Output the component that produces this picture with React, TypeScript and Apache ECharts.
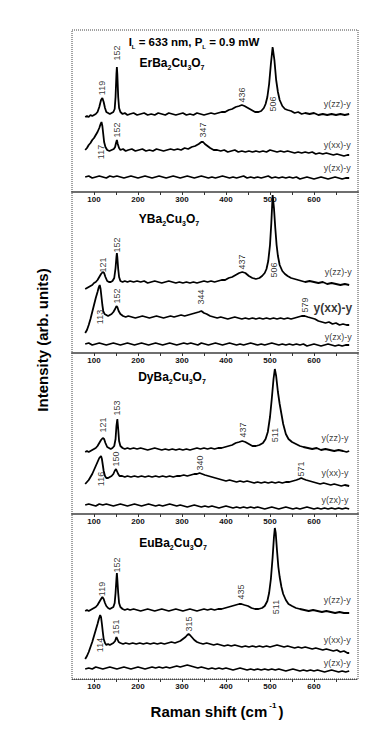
import React, { useEffect, useRef } from "react";
import * as echarts from "echarts";

const FONT = '"Liberation Sans", Arial, Helvetica, sans-serif';

// ---- axis ----
const xMin = 50;
const xMax = 700;
const majorTicks = [100, 200, 300, 400, 500, 600];
const allTicks = [100, 150, 200, 250, 300, 350, 400, 450, 500, 550, 600, 650];

// ---- panel 1: ErBa2Cu3O7 ----
const erZZ = [[80,75],[84,76],[88,75],[92,77],[96,76],[100,77],[104,78],[108,80],[112,85],[116,92],[119,94],[122,90],[125,84],[128,80],[132,79],[136,78],[140,79],[144,80],[147,83],[149,95],[151,118],[152,125],[153,118],[155,95],[157,84],[160,80],[165,78],[170,79],[176,77],[182,78],[190,79],[198,77],[206,78],[214,79],[222,77],[230,78],[238,77],[246,79],[254,78],[262,77],[270,79],[278,78],[286,77],[294,78],[302,79],[310,77],[318,78],[326,77],[334,79],[342,78],[350,77],[358,78],[366,79],[374,78],[382,79],[390,80],[398,80],[406,82],[414,83],[422,85],[430,86],[436,87],[442,86],[450,84],[458,82],[466,80],[474,80],[480,81],[486,84],[490,88],[494,95],[498,108],[502,128],[506,145],[510,132],[514,112],[518,100],[522,92],[528,86],[534,83],[540,82],[548,81],[556,79],[564,80],[572,78],[580,79],[590,78],[600,79],[610,77],[620,78],[630,77],[640,78],[650,77],[660,78],[670,77],[680,78]];
const erXX = [[80,42],[84,44],[88,47],[92,49],[96,52],[100,54],[104,57],[108,60],[112,64],[115,68],[117,70],[119,66],[121,58],[123,50],[126,45],[130,42],[135,41],[140,42],[145,43],[148,45],[150,49],[152,52],[154,48],[157,44],[160,42],[166,43],[172,41],[178,42],[186,43],[194,41],[202,42],[210,43],[218,41],[226,42],[234,41],[242,43],[250,42],[258,41],[266,42],[274,43],[282,42],[290,43],[298,42],[306,44],[314,43],[322,45],[330,46],[338,48],[344,50],[348,50],[352,48],[358,46],[364,44],[372,42],[380,42],[388,41],[396,42],[404,40],[412,41],[420,42],[428,40],[436,41],[444,40],[452,41],[460,40],[468,41],[476,40],[484,41],[492,40],[500,42],[508,41],[516,40],[524,41],[532,40],[540,41],[548,40],[556,39],[564,40],[572,39],[580,40],[588,39],[596,40],[604,38],[612,39],[620,38],[628,39],[636,38],[644,37],[652,38],[660,37],[668,36],[676,37],[680,37]];
const erZX = [[80,15],[88,16],[96,14],[104,15],[112,16],[120,15],[128,14],[136,16],[144,15],[152,16],[160,15],[168,14],[176,15],[184,16],[192,15],[200,14],[208,15],[216,16],[224,15],[232,14],[240,15],[248,16],[256,15],[264,14],[272,15],[280,16],[288,15],[296,14],[304,15],[312,16],[320,15],[328,14],[336,15],[344,16],[352,15],[360,14],[368,15],[376,14],[384,15],[392,16],[400,15],[408,14],[416,15],[424,14],[432,15],[440,16],[448,14],[456,15],[464,14],[472,15],[480,14],[488,15],[496,16],[504,14],[512,15],[520,14],[528,15],[536,14],[544,15],[552,14],[560,15],[568,13],[576,14],[584,15],[592,14],[600,13],[608,14],[616,15],[624,14],[632,13],[640,14],[648,15],[656,14],[664,13],[672,14],[680,14]];
const erPeaks = [["119",119,104],["152",152,139],["436",436,97],["506",507,88],["117",117,40],["152",152,62],["347",347,62]];
const erTags = [["y(zz)-y",653,88],["y(xx)-y",653,47],["y(zx)-y",653,24]];

// ---- panel 2: YBa2Cu3O7 ----
const yZZ = [[80,64],[84,65],[88,66],[92,67],[96,68],[100,70],[104,71],[108,73],[112,76],[116,79],[120,81],[123,80],[126,76],[130,72],[134,71],[138,71],[142,72],[146,75],[149,85],[151,96],[152,100],[153,96],[155,84],[157,76],[160,72],[165,71],[170,72],[176,71],[182,72],[190,71],[198,72],[206,71],[214,72],[222,70],[230,71],[238,72],[246,71],[254,70],[262,71],[270,72],[278,71],[286,70],[294,71],[302,70],[310,71],[318,70],[326,71],[334,70],[342,71],[350,72],[358,71],[366,72],[374,71],[382,72],[390,73],[398,73],[406,75],[414,76],[422,78],[430,80],[437,81],[444,80],[452,77],[460,75],[468,74],[476,75],[482,77],[488,80],[492,84],[496,92],[500,108],[503,130],[506,158],[509,145],[512,125],[515,108],[518,97],[522,88],[528,82],[534,79],[540,77],[548,75],[556,74],[564,73],[572,72],[580,71],[590,72],[600,71],[610,70],[620,71],[630,69],[640,70],[650,69],[660,68],[670,69],[680,68]];
const yXX = [[80,20],[84,23],[88,28],[92,34],[96,41],[100,48],[104,55],[108,61],[111,66],[113,68],[115,64],[117,56],[119,48],[121,42],[124,39],[128,38],[132,37],[136,38],[140,39],[144,41],[148,44],[151,47],[153,46],[156,42],[160,39],[166,37],[172,36],[178,37],[186,36],[194,35],[202,36],[210,37],[218,36],[226,35],[234,36],[242,37],[250,36],[258,35],[266,36],[274,37],[282,36],[290,37],[298,38],[306,37],[314,38],[322,39],[330,40],[338,41],[344,42],[350,40],[356,39],[364,37],[372,36],[380,35],[388,36],[396,35],[404,34],[412,35],[420,36],[428,35],[436,34],[444,35],[452,34],[460,35],[468,34],[476,35],[484,34],[492,35],[500,34],[508,35],[516,34],[524,35],[532,34],[540,35],[548,34],[556,35],[564,36],[572,37],[579,37],[586,36],[594,35],[602,34],[610,32],[618,31],[626,30],[634,31],[642,29],[650,30],[658,28],[666,29],[674,28],[680,28]];
const yZX = [[80,9],[88,10],[96,8],[104,9],[112,10],[120,9],[128,8],[136,9],[144,10],[152,9],[160,8],[168,9],[176,10],[184,9],[192,8],[200,9],[208,10],[216,9],[224,8],[232,9],[240,10],[248,9],[256,8],[264,9],[272,10],[280,9],[288,8],[296,9],[304,10],[312,9],[320,10],[328,9],[336,8],[344,10],[352,9],[360,8],[368,9],[376,10],[384,9],[392,8],[400,9],[408,10],[416,9],[424,8],[432,9],[440,8],[448,9],[456,10],[464,9],[472,8],[480,9],[488,8],[496,9],[504,10],[512,9],[520,8],[528,9],[536,8],[544,9],[552,8],[560,9],[568,8],[576,9],[584,7],[592,8],[600,9],[608,8],[616,7],[624,8],[632,9],[640,8],[648,7],[656,8],[664,7],[672,8],[680,8]];
const yPeaks = [["121",121,88],["152",152,108],["437",437,91],["506",509,83],["113",113,36],["152",152,57],["344",344,56],["579",579,48]];
const yTags = [["y(zz)-y",655,81],["y(xx)-y",643,45],["y(zx)-y",655,16]];

// ---- panel 3: DyBa2Cu3O7 ----
const dyZZ = [[80,62],[84,63],[88,62],[92,63],[96,64],[100,65],[104,66],[108,68],[112,71],[116,74],[120,76],[123,75],[126,71],[130,67],[134,66],[138,65],[142,66],[146,68],[149,75],[151,88],[153,95],[155,85],[157,73],[160,68],[165,66],[170,65],[176,66],[182,65],[190,66],[198,65],[206,66],[214,65],[222,64],[230,65],[238,66],[246,65],[254,64],[262,65],[270,64],[278,65],[286,64],[294,65],[302,64],[310,65],[318,64],[326,65],[334,66],[342,65],[350,66],[358,65],[366,66],[374,65],[382,66],[390,66],[398,67],[406,68],[414,69],[422,71],[430,72],[437,73],[444,72],[452,70],[460,68],[468,68],[476,69],[484,71],[490,75],[495,82],[500,97],[504,115],[508,135],[511,145],[514,138],[518,122],[522,110],[526,100],[530,90],[536,80],[542,75],[550,72],[559,70],[568,68],[576,67],[586,66],[596,65],[606,66],[616,64],[626,65],[636,64],[646,63],[656,64],[666,63],[674,62],[680,63]];
const dyXX = [[80,30],[84,32],[88,34],[92,37],[96,40],[100,44],[104,48],[108,52],[112,56],[116,58],[118,55],[120,49],[122,43],[125,38],[128,36],[132,36],[136,37],[140,38],[144,40],[147,43],[150,45],[152,43],[155,40],[158,38],[164,38],[170,37],[176,38],[184,37],[192,38],[200,37],[208,38],[216,37],[224,38],[232,37],[240,38],[248,37],[256,38],[264,37],[272,38],[280,37],[288,38],[296,38],[304,39],[312,38],[320,39],[328,40],[334,40],[340,41],[346,40],[352,39],[360,38],[368,37],[376,36],[384,35],[392,34],[400,33],[408,34],[416,33],[424,32],[432,33],[440,32],[448,33],[456,32],[464,31],[472,32],[480,31],[488,32],[496,31],[504,32],[512,31],[520,32],[528,31],[536,32],[544,32],[552,33],[560,34],[566,35],[571,36],[576,35],[582,34],[590,33],[598,32],[606,31],[614,30],[622,31],[630,30],[638,29],[646,30],[654,29],[662,28],[670,29],[680,28]];
const dyZX = [[80,9],[88,10],[96,9],[104,8],[112,10],[120,9],[128,10],[136,9],[144,8],[152,9],[160,10],[168,9],[176,8],[184,9],[192,10],[200,9],[208,8],[216,9],[224,10],[232,9],[240,8],[248,9],[256,8],[264,9],[272,10],[280,9],[288,8],[296,9],[304,8],[312,7],[320,8],[328,9],[336,8],[344,7],[352,8],[360,7],[368,8],[376,7],[384,6],[392,7],[400,8],[408,7],[416,6],[424,7],[432,6],[440,7],[448,6],[456,7],[464,6],[472,7],[480,6],[488,5],[496,6],[504,7],[512,6],[520,5],[528,6],[536,7],[544,6],[552,5],[560,6],[568,5],[576,6],[584,7],[592,6],[600,5],[608,6],[616,5],[624,6],[632,5],[640,6],[648,5],[656,6],[664,5],[672,6],[680,5]];
const dyPeaks = [["121",121,89],["153",153,106],["437",439,84],["511",511,79],["116",116,35],["150",150,55],["340",340,51],["571",571,45]];
const dyTags = [["y(zz)-y",648,76],["y(xx)-y",648,41],["y(zx)-y",648,14]];

// ---- panel 4: EuBa2Cu3O7 ----
const euZZ = [[80,68],[84,69],[88,68],[92,69],[96,70],[100,71],[104,72],[108,74],[112,77],[116,80],[119,82],[122,80],[125,76],[128,73],[132,71],[136,70],[140,71],[144,72],[147,76],[149,86],[151,100],[152,106],[153,100],[155,86],[157,76],[160,72],[165,70],[170,69],[176,70],[182,69],[190,70],[198,69],[206,68],[214,69],[222,70],[230,69],[238,68],[246,69],[254,70],[262,69],[270,68],[278,69],[286,70],[294,69],[302,68],[310,69],[318,70],[326,69],[334,68],[342,69],[350,70],[358,69],[366,70],[374,69],[382,70],[390,70],[398,71],[406,72],[414,73],[422,74],[430,75],[435,75],[442,74],[450,73],[458,71],[466,70],[474,70],[482,71],[488,73],[494,78],[498,86],[502,100],[506,122],[509,142],[511,151],[513,146],[516,128],[519,112],[522,102],[526,92],[530,85],[536,79],[542,75],[550,73],[559,71],[568,70],[578,69],[588,68],[598,69],[608,68],[618,67],[628,68],[638,67],[648,66],[658,67],[668,66],[680,66]];
const euXX = [[80,20],[84,23],[88,27],[92,32],[96,37],[100,43],[104,49],[108,55],[111,60],[114,64],[116,62],[118,55],[120,47],[122,40],[125,36],[128,34],[132,35],[136,34],[140,35],[144,36],[148,38],[151,42],[153,40],[156,37],[160,36],[166,35],[172,36],[180,35],[188,36],[196,35],[204,36],[212,35],[220,36],[228,35],[236,36],[244,35],[252,36],[260,35],[268,36],[276,37],[284,36],[290,37],[296,38],[302,40],[308,42],[312,44],[315,45],[318,44],[322,42],[328,39],[334,37],[340,36],[348,35],[356,36],[364,35],[372,34],[380,35],[388,34],[396,33],[404,34],[412,33],[420,34],[428,33],[436,32],[444,33],[452,32],[460,33],[468,32],[476,33],[484,32],[492,33],[500,32],[508,33],[516,34],[524,33],[532,32],[540,33],[548,32],[556,31],[564,32],[572,31],[580,32],[588,31],[596,30],[604,31],[612,30],[620,29],[628,30],[636,29],[644,28],[652,29],[660,27],[668,28],[676,26],[680,26]];
const euZX = [[80,10],[88,11],[96,10],[104,12],[112,11],[120,10],[128,11],[136,12],[144,11],[152,10],[160,11],[168,12],[176,11],[184,10],[192,11],[200,12],[208,11],[216,10],[224,11],[232,12],[240,11],[248,12],[256,11],[264,12],[272,11],[280,12],[288,13],[296,12],[304,13],[312,14],[320,13],[328,12],[336,11],[344,12],[352,11],[360,10],[368,11],[376,10],[384,11],[392,10],[400,11],[408,10],[416,9],[424,10],[432,11],[440,10],[448,9],[456,10],[464,9],[472,10],[480,9],[488,10],[496,9],[504,10],[512,9],[520,10],[528,9],[536,8],[544,9],[552,10],[560,9],[568,8],[576,9],[584,8],[592,9],[600,8],[608,9],[616,8],[624,7],[632,8],[640,9],[648,8],[656,7],[664,8],[672,7],[680,8]];
const euPeaks = [["119",119,90],["152",152,114],["435",435,87],["511",513,72],["114",114,34],["151",151,52],["315",315,55]];
const euTags = [["y(zz)-y",653,79],["y(xx)-y",653,39],["y(zx)-y",653,16]];

const compounds = ["Er", "Y", "Dy", "Eu"];

// layout (pixels)
const FRAME_LEFT = 72;
const FRAME_WIDTH = 286;
const panelLayout = [
  { top: 30, height: 162 },
  { top: 192, height: 161 },
  { top: 353, height: 161 },
  { top: 514, height: 165 },
];
const titleCenters = [
  [172, 63],
  [169, 219],
  [172, 377],
  [173, 543],
];

const panels = [
  { zz: erZZ, xx: erXX, zx: erZX, peaks: erPeaks, tags: erTags },
  { zz: yZZ, xx: yXX, zx: yZX, peaks: yPeaks, tags: yTags },
  { zz: dyZZ, xx: dyXX, zx: dyZX, peaks: dyPeaks, tags: dyTags },
  { zz: euZZ, xx: euXX, zx: euZX, peaks: euPeaks, tags: euTags },
];

function buildOption() {
  const grid: any[] = [];
  const xAxis: any[] = [];
  const yAxis: any[] = [];
  const series: any[] = [];

  panels.forEach((p, i) => {
    const L = panelLayout[i];
    const last = i === panels.length - 1;
    grid.push({ left: FRAME_LEFT, width: FRAME_WIDTH, top: L.top, height: L.height, containLabel: false });
    xAxis.push({
      type: "value",
      gridIndex: i,
      min: xMin,
      max: xMax,
      splitLine: { show: false },
      axisLine: {
        show: true,
        onZero: false,
        lineStyle: last
          ? { color: "#444", width: 1, type: [1, 1] }
          : { color: "#6f6f6f", width: 2.2 },
      },
      axisTick: {
        show: true,
        inside: false,
        length: 3,
        customValues: allTicks,
        lineStyle: { color: "#333", width: 1 },
      },
      axisLabel: {
        show: true,
        customValues: majorTicks,
        fontSize: 8,
        fontFamily: FONT,
        fontWeight: "bold",
        color: "#111",
        margin: 3,
      },
    });
    yAxis.push({
      type: "value",
      gridIndex: i,
      min: 0,
      max: L.height,
      show: false,
      splitLine: { show: false },
    });

    [p.zz, p.xx, p.zx].forEach((d) => {
      series.push({
        type: "line",
        xAxisIndex: i,
        yAxisIndex: i,
        data: d,
        showSymbol: false,
        symbol: "none",
        silent: true,
        lineStyle: { color: "#000", width: 1.8 },
        z: 3,
      });
    });

    const labelData: any[] = [];
    p.peaks.forEach(([t, x, y]: any) => {
      labelData.push({
        value: [x, y],
        label: {
          show: true,
          formatter: t,
          rotate: 90,
          position: "inside",
          fontSize: 9,
          fontFamily: FONT,
          color: "#000",
        },
      });
    });
    p.tags.forEach(([t, x, y]: any) => {
      const bold = i === 1 && t === "y(xx)-y";
      labelData.push({
        value: [x, y],
        label: {
          show: true,
          formatter: t,
          position: "inside",
          fontSize: bold ? 12 : 9,
          fontWeight: bold ? "bold" : "normal",
          fontFamily: FONT,
          color: "#000",
        },
      });
    });
    series.push({
      type: "scatter",
      xAxisIndex: i,
      yAxisIndex: i,
      data: labelData,
      symbolSize: 1,
      itemStyle: { color: "rgba(0,0,0,0)" },
      silent: true,
      z: 4,
    });
  });

  const mainRich = {
    b: { fontSize: 12, fontWeight: "bold", fontFamily: FONT, lineHeight: 16, color: "#000" },
    s: { fontSize: 7, fontWeight: "bold", fontFamily: FONT, lineHeight: 6, verticalAlign: "bottom", color: "#000" },
  };

  const graphic: any[] = [
    {
      type: "rect",
      silent: true,
      shape: { x: FRAME_LEFT, y: panelLayout[0].top, width: FRAME_WIDTH, height: panelLayout[3].top + panelLayout[3].height - panelLayout[0].top },
      style: { fill: "none", stroke: "#444", lineWidth: 1, lineDash: [1, 1] },
      z: 1,
    },
    {
      type: "text",
      silent: true,
      x: 194,
      y: 42,
      style: {
        text: "{b|I}{s|L}{b| = 633 nm, P}{s|L}{b| = 0.9 mW}",
        rich: {
          b: { fontSize: 11.5, fontWeight: "bold", fontFamily: FONT, lineHeight: 16, color: "#000" },
          s: { fontSize: 6, fontWeight: "bold", fontFamily: FONT, lineHeight: 5, verticalAlign: "bottom", color: "#000" },
        },
        align: "center",
        verticalAlign: "middle",
      },
      z: 10,
    },
    {
      type: "text",
      silent: true,
      x: 42,
      y: 340,
      rotation: Math.PI / 2,
      style: {
        text: "Intensity (arb. units)",
        fontSize: 15,
        fontWeight: "bold",
        fontFamily: FONT,
        fill: "#000",
        align: "center",
        verticalAlign: "middle",
      },
      z: 10,
    },
    {
      type: "text",
      silent: true,
      x: 217,
      y: 711,
      style: {
        text: "{b|Raman shift (cm}{p|-1}{b|)}",
        rich: {
          b: { fontSize: 15, fontWeight: "bold", fontFamily: FONT, lineHeight: 20, color: "#000" },
          p: { fontSize: 8, fontWeight: "bold", fontFamily: FONT, lineHeight: 8, verticalAlign: "top", color: "#000", padding: [0, 2, 0, 2] },
        },
        align: "center",
        verticalAlign: "middle",
      },
      z: 10,
    },
  ];

  compounds.forEach((c, i) => {
    graphic.push({
      type: "text",
      silent: true,
      x: titleCenters[i][0],
      y: titleCenters[i][1],
      style: {
        text: `{b|${c}Ba}{s|2}{b|Cu}{s|3}{b|O}{s|7}`,
        rich: mainRich,
        align: "center",
        verticalAlign: "middle",
      },
      z: 10,
    });
  });

  return {
    animation: false,
    backgroundColor: "#fff",
    grid,
    xAxis,
    yAxis,
    series,
    graphic,
  };
}

export default function App() {
  const ref = useRef<HTMLDivElement>(null);
  useEffect(() => {
    if (!ref.current) return;
    const chart = echarts.init(ref.current, undefined, { renderer: "svg" });
    chart.setOption(buildOption() as any);
    return () => chart.dispose();
  }, []);
  return (
    <div
      ref={ref}
      style={{ position: "fixed", left: 0, top: 0, width: 389, height: 755, background: "#fff" }}
    />
  );
}
